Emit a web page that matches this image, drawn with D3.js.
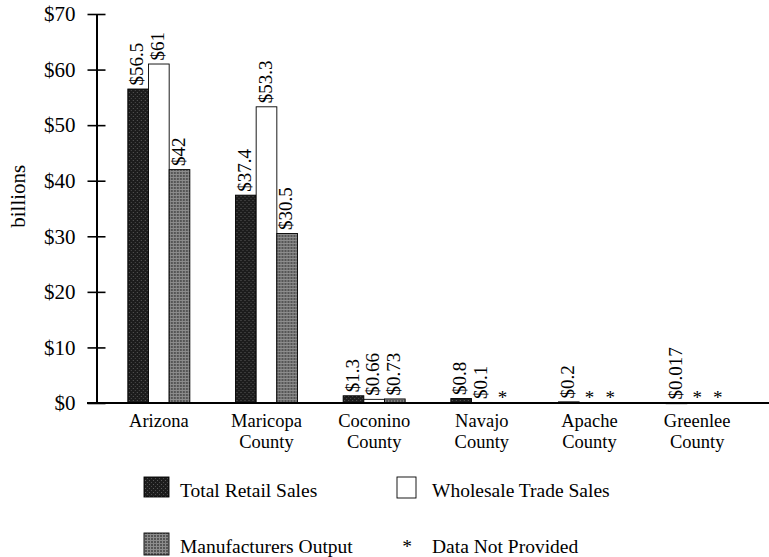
<!DOCTYPE html>
<html><head><meta charset="utf-8">
<script src="https://cdn.jsdelivr.net/npm/d3@7"></script>
<style>
body{margin:0;background:#fff}
svg{display:block}
text{font-family:"Liberation Serif","Times New Roman",serif;fill:#000}
</style>
</head><body>
<svg id="c" width="769" height="557"></svg>
<script>
const categories = ["Arizona","Maricopa County","Coconino County","Navajo County","Apache County","Greenlee County"];
const seriesNames = ["Total Retail Sales","Wholesale Trade Sales","Manufacturers Output"];
const retailSales = [56.5, 37.4, 1.3, 0.8, 0.2, 0.017];
const wholesaleSales = [61, 53.3, 0.66, 0.1, null, null];
const manufacturersOutput = [42, 30.5, 0.73, null, null, null];
const yTicks = [0, 10, 20, 30, 40, 50, 60, 70];
const yTitle = "billions";
const missingLabel = "Data Not Provided";

const svg = d3.select("#c");
const defs = svg.append("defs");

// textures
const pr = defs.append("pattern").attr("id","pRetail").attr("patternUnits","userSpaceOnUse").attr("width",4).attr("height",4);
pr.append("rect").attr("width",4).attr("height",4).attr("fill","#1c1c1c");
pr.append("rect").attr("x",1).attr("y",0).attr("width",1).attr("height",1).attr("fill","#5a5a5a");
pr.append("rect").attr("x",3).attr("y",2).attr("width",1).attr("height",1).attr("fill","#4a4a4a");
const pm = defs.append("pattern").attr("id","pMfg").attr("patternUnits","userSpaceOnUse").attr("width",3).attr("height",3);
pm.append("rect").attr("width",3).attr("height",3).attr("fill","#555");
pm.append("rect").attr("width",3).attr("height",1).attr("fill","#8c8c8c");
pm.append("rect").attr("width",1).attr("height",3).attr("fill","#8c8c8c");

const fills = ["url(#pRetail)","#fff","url(#pMfg)"];
const series = [retailSales, wholesaleSales, manufacturersOutput];

const y = d3.scaleLinear().domain([0,70]).range([403,14]);
const x0 = d3.scaleBand().domain(categories).range([105,751]).paddingInner(0.424).paddingOuter(0.212);
const x1 = d3.scaleBand().domain(d3.range(series.length)).range([0,x0.bandwidth()]);

// Y axis
const yAxis = svg.append("g").attr("transform",`translate(${96.5},0)`)
  .call(d3.axisLeft(y).tickValues(yTicks).tickFormat(d=>"$"+d).tickSizeOuter(0).tickPadding(15));
yAxis.select(".domain").attr("stroke","#000").attr("stroke-width",2);
yAxis.selectAll(".tick line").attr("x1",-9).attr("x2",9).attr("stroke","#000").attr("stroke-width",1.6);
yAxis.selectAll(".tick text").attr("font-family","Liberation Serif").attr("font-size",21).attr("fill","#000");

svg.append("text").attr("transform",`translate(25,${y(37.2)}) rotate(-90)`)
  .attr("text-anchor","middle").attr("font-size",21).text(yTitle);

// bars
const groups = svg.append("g").selectAll("g").data(categories).join("g")
  .attr("transform",d=>`translate(${x0(d)},0)`);

groups.each(function(cat, ci){
  const g = d3.select(this);
  series.forEach((vals, si) => {
    const v = vals[ci];
    const bx = x1(si), bw = x1.bandwidth();
    if (v === null) {
      g.append("text").attr("x",bx+bw/2).attr("y",y(0)+1).attr("text-anchor","middle")
        .attr("font-size",19).text("*");
      return;
    }
    g.append("rect").attr("x",bx).attr("y",y(v)).attr("width",bw).attr("height",Math.max(0.8,y(0)-y(v)))
      .attr("fill",fills[si]).attr("stroke","#000").attr("stroke-width",0.9);
    g.append("text").attr("transform",`translate(${bx+bw/2-1.5},${y(v)-3.5}) rotate(-90)`)
      .attr("dy","0.35em").attr("font-size",19).text("$"+v);
  });
});

// X axis
const xAxis = svg.append("g").attr("transform",`translate(0,${y(0)})`)
  .call(d3.axisBottom(x0).tickSize(0).tickSizeOuter(0));
xAxis.select(".domain").attr("d",`M87,0H769`).attr("stroke","#000").attr("stroke-width",2);
xAxis.selectAll(".tick text").each(function(d){
  const t = d3.select(this).text(null).attr("y",0).attr("dy",null)
    .attr("font-family","Liberation Serif").attr("font-size",18.5).attr("fill","#000");
  d.split(" ").forEach((w,i)=>{
    t.append("tspan").attr("x",0).attr("y",24+i*21).text(w);
  });
});

// legend
const legendItems = [
  {label: seriesNames[0], type:"box", fill: fills[0], x:144, y:477, w:25, h:20, tx:180, ty:497},
  {label: seriesNames[1], type:"box", fill: fills[1], x:397, y:477, w:19, h:21, tx:432, ty:497},
  {label: seriesNames[2], type:"box", fill: fills[2], x:144, y:533, w:25, h:22, tx:180, ty:553},
  {label: missingLabel, type:"star", x:407, y:553, tx:432, ty:553}
];
const lg = svg.append("g");
legendItems.forEach(it=>{
  if (it.type==="box") {
    lg.append("rect").attr("x",it.x).attr("y",it.y).attr("width",it.w).attr("height",it.h)
      .attr("fill",it.fill).attr("stroke","#000").attr("stroke-width",0.9);
  } else {
    lg.append("text").attr("x",it.x).attr("y",it.y).attr("text-anchor","middle").attr("font-size",19.5).text("*");
  }
  lg.append("text").attr("x",it.tx).attr("y",it.ty).attr("font-size",19.5).text(it.label);
});
</script>
</body></html>
